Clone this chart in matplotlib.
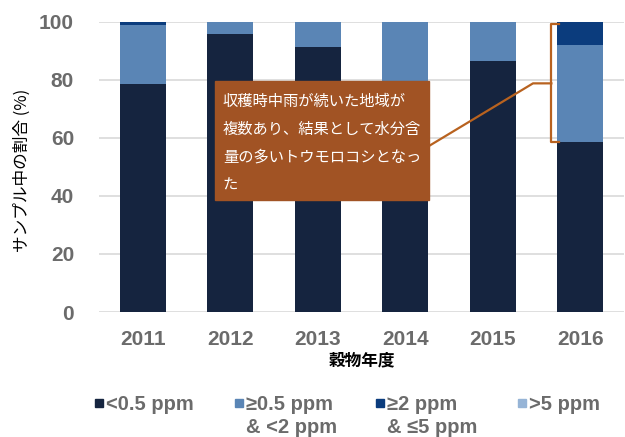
import matplotlib.pyplot as plt
from matplotlib.patches import Rectangle
import numpy as np

# Data (percent of samples per level)
years = ['2011', '2012', '2013', '2014', '2015', '2016']
low = [78.5, 95.8, 91.2, 77.0, 86.6, 58.7]        # <0.5 ppm
mid = [20.5, 4.2, 8.8, 23.0, 13.4, 33.3]          # >=0.5 & <2 ppm
high = [1.0, 0.0, 0.0, 0.0, 0.0, 8.0]             # >=2 & <=5 ppm
top = [0.0, 0.0, 0.0, 0.0, 0.0, 0.0]              # >5 ppm

labels = ['<0.5 ppm', '≥0.5 ppm\n& <2 ppm', '≥2 ppm\n& ≤5 ppm', '>5 ppm']
colors = ['#15243f', '#5a85b5', '#0b3c7d', '#96b4d6']

note_lines = ['収穫時中雨が続いた地域が',
              '複数あり、結果として水分含',
              '量の多いトウモロコシとなっ',
              'た']

latin = ['Liberation Sans', 'DejaVu Sans']
cjk = ['Noto Sans CJK JP', 'DejaVu Sans']

fig = plt.figure(figsize=(6.25, 4.37), dpi=100)
ax = fig.add_axes([99 / 625, 0.286, 525 / 625, 0.664])

x = np.arange(len(years))
w = 0.53
bottom = np.zeros(len(years))
for vals, c in zip([low, mid, high, top], colors):
    ax.bar(x, vals, w, bottom=bottom, color=c, zorder=2)
    bottom += np.array(vals)

ax.set_xlim(-0.5, 5.5)
ax.set_ylim(0, 100)
ax.set_yticks(range(0, 101, 20))
ax.set_xticks(x)
ax.set_xticklabels(years)
ax.grid(axis='y', color='#d9d9d9', lw=1.2, zorder=0)
for s in ax.spines.values():
    s.set_visible(False)
for t in ax.get_xticklabels() + ax.get_yticklabels():
    t.set_family(latin)
    t.set_fontweight('bold')
    t.set_fontsize(15)
    t.set_color('#6b6b6b')
ax.tick_params(length=0)
ax.tick_params(axis='x', pad=13)
ax.tick_params(axis='y', pad=18)

ax.set_xlabel('穀物年度', family=cjk, fontsize=12, fontweight='bold', labelpad=2)
fig.text(22 / 625, 0.61, 'サンプル中の割合 (%)', family=cjk, fontsize=12,
         rotation=90, ha='center', va='center')

# annotation box
ax.add_patch(Rectangle((0.823, 38.7), 2.447, 40.8, color='#a15324', zorder=5))
for i, line in enumerate(note_lines):
    ax.text(0.915, 72.6 - i * 9.6, line, family=cjk, fontsize=11, color='white',
            va='center', ha='left', zorder=6)

# bracket on 2016 and connector
bc = '#b8621f'
bx = x[5] - w / 2 - 0.065
ax.plot([bx + 0.09, bx, bx, bx + 0.09], [99.4, 99.4, low[5], low[5]],
        color=bc, lw=1.6, zorder=4)
ax.plot([3.27, 4.46, bx], [57.2, 78.8, 78.8], color=bc, lw=1.6, zorder=4)

# legend
lx = [95, 235, 376, 518]
for xx, lab, c in zip(lx, labels, colors):
    fig.patches.append(Rectangle((xx / 625, (437 - 407) / 437), 8 / 625, 8 / 437,
                                 color=c, transform=fig.transFigure))
    fig.text((xx + 11) / 625, (437 - 395) / 437, lab, family=latin, fontsize=14.5,
             fontweight='bold', color='#6b6b6b', va='top', ha='left',
             linespacing=1.25)

fig.savefig('out.png', dpi=100)
